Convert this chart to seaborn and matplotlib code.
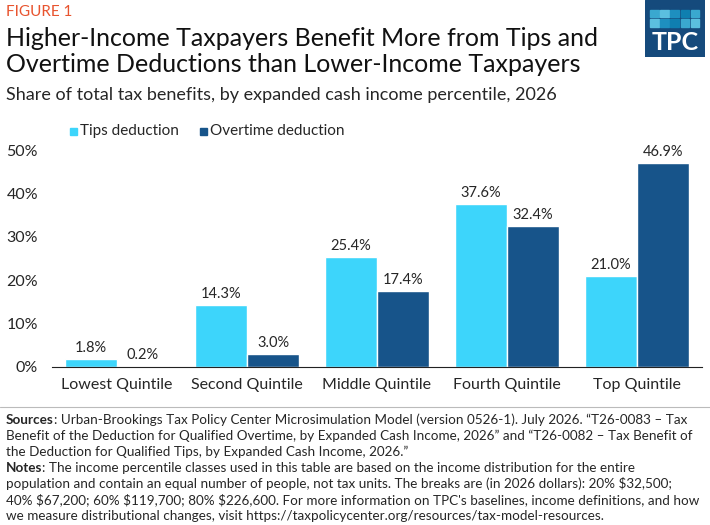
import matplotlib
matplotlib.use("Agg")
import matplotlib.pyplot as plt
import seaborn as sns
import pandas as pd
from matplotlib.patches import Rectangle

quintiles = ["Lowest Quintile", "Second Quintile", "Middle Quintile", "Fourth Quintile", "Top Quintile"]
tips = [1.8, 14.3, 25.4, 37.6, 21.0]
overtime = [0.2, 3.0, 17.4, 32.4, 46.9]
series = ["Tips deduction", "Overtime deduction"]
colors = ["#3dd5fb", "#17548a"]

df = pd.DataFrame({
    "quintile": quintiles * 2,
    "share": tips + overtime,
    "series": [series[0]] * 5 + [series[1]] * 5,
})

sns.set_style("white")
plt.rcParams["font.family"] = ["Lato", "DejaVu Sans"]

W, H = 710, 525
fig = plt.figure(figsize=(W / 100, H / 100), dpi=100)
ax = fig.add_axes([52 / W, 1 - 367 / H, 650 / W, 217 / H])

sns.barplot(data=df, x="quintile", y="share", hue="series", palette=colors,
            width=0.8, gap=0, ax=ax, legend=False, saturation=1)
ax.set_ylim(0, 50)
ax.set_xlim(-0.5, 4.5)
ax.set_yticks(range(0, 51, 10))
ax.set_yticklabels([f"{v}%" for v in range(0, 51, 10)], fontsize=11.5)
ax.tick_params(axis="x", labelsize=11.5, length=0, pad=8)
ax.tick_params(axis="y", length=0, pad=10)
ax.set_xlabel("")
ax.set_ylabel("")
for s in ["top", "right", "left"]:
    ax.spines[s].set_visible(False)
ax.spines["bottom"].set_color("#222222")

for cont in ax.containers:
    ax.bar_label(cont, labels=[f"{v:.1f}%" for v in cont.datavalues], padding=3, fontsize=10.5)

# legend
for i, (lab, c) in enumerate(zip(series, colors)):
    x0 = [70, 200][i]
    fig.patches.append(Rectangle((x0 / W, 1 - 135 / H), 7 / W, 7 / H, color=c, transform=fig.transFigure))
    fig.text((x0 + 10) / W, 1 - 131 / H, lab, fontsize=11, va="center")

fig.text(6 / W, 1 - 12 / H, "FIGURE 1", fontsize=11, color="#e8542f", va="center")
fig.text(6 / W, 1 - 38 / H, "Higher-Income Taxpayers Benefit More from Tips and", fontsize=18, va="center", color="#111111")
fig.text(6 / W, 1 - 64 / H, "Overtime Deductions than Lower-Income Taxpayers", fontsize=18, va="center", color="#111111")
fig.text(6 / W, 1 - 95 / H, "Share of total tax benefits, by expanded cash income percentile, 2026", fontsize=13, va="center")

# logo
lg = fig.add_axes([645 / W, 1 - 57 / H, 60 / W, 57 / H])
lg.set_xlim(0, 60); lg.set_ylim(0, 57); lg.axis("off")
lg.add_patch(Rectangle((0, 0), 60, 57, color="#154a7c"))
sq = ["#3aa8cf", "#5bbfdf", "#1e8fbf", "#0f7fb0"]
for r in range(2):
    for c in range(5):
        lg.add_patch(Rectangle((5 + c * 10.2, 47 - r * 9.5 - 7), 8.5, 7.5, color=sq[(r + c) % 4]))
lg.text(30, 14, "TPC", color="white", fontsize=18, fontweight="bold", ha="center", va="center")

fig.add_artist(plt.Line2D([0, 1], [1 - 407 / H] * 2, color="#bbbbbb", lw=0.8))

notes = [
    ("Sources", ": Urban-Brookings Tax Policy Center Microsimulation Model (version 0526-1). July 2026. \u201cT26-0083 \u2013 Tax"),
    (None, "Benefit of the Deduction for Qualified Overtime, by Expanded Cash Income, 2026\u201d and \u201cT26-0082 \u2013 Tax Benefit of"),
    (None, "the Deduction for Qualified Tips, by Expanded Cash Income, 2026.\u201d"),
    ("Notes", ": The income percentile classes used in this table are based on the income distribution for the entire"),
    (None, "population and contain an equal number of people, not tax units. The breaks are (in 2026 dollars): 20% $32,500;"),
    (None, "40% $67,200; 60% $119,700; 80% $226,600. For more information on TPC's baselines, income definitions, and how"),
    (None, "we measure distributional changes, visit https://taxpolicycenter.org/resources/tax-model-resources."),
]
y = 420
for bold, rest in notes:
    if bold:
        t = fig.text(6 / W, 1 - y / H, bold, fontsize=9.7, fontweight="bold", va="center")
        fig.canvas.draw()
        bb = t.get_window_extent()
        fig.text(bb.x1 / W, 1 - y / H, rest, fontsize=9.7, va="center")
    else:
        fig.text(6 / W, 1 - y / H, rest, fontsize=9.7, va="center")
    y += 16

fig.savefig("out.png", dpi=100)
